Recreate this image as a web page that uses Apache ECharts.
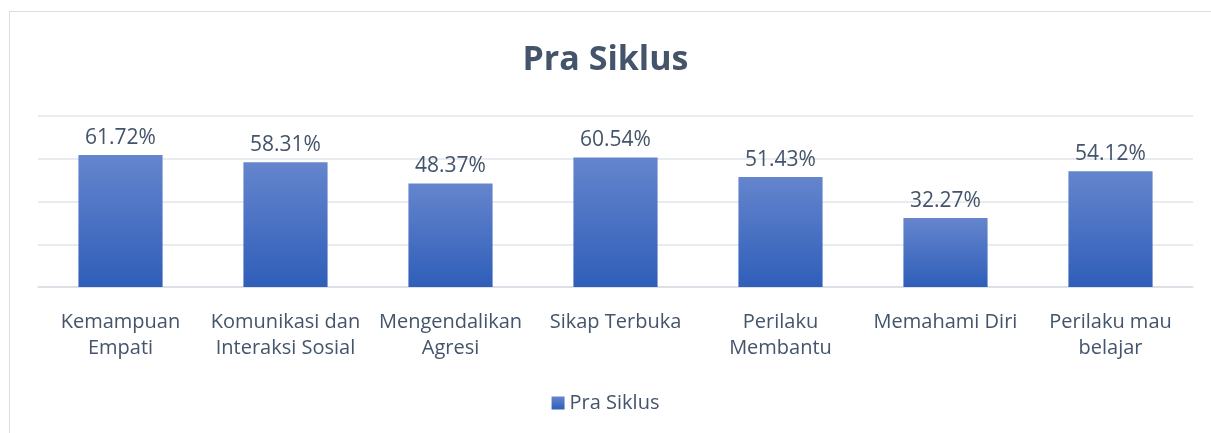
<!DOCTYPE html>
<html>
<head>
<meta charset="utf-8">
<script src="https://cdn.jsdelivr.net/npm/echarts@6/dist/echarts.min.js"></script>
<style>
  html, body { margin: 0; padding: 0; background: #fff; overflow: hidden; }
  #frame { position: absolute; left: 9px; top: 11px; width: 1300px; height: 500px; border: 1px solid #D9DEE5; }
  #main { position: absolute; left: 0; top: 0; width: 1211px; height: 433px; }
</style>
</head>
<body>
<div id="frame"></div>
<div id="main"></div>
<script>
// 类别与数值
var categories = ['Kemampuan\nEmpati', 'Komunikasi dan\nInteraksi Sosial', 'Mengendalikan\nAgresi', 'Sikap Terbuka', 'Perilaku\nMembantu', 'Memahami Diri', 'Perilaku mau\nbelajar'];
var praSiklus = [61.72, 58.31, 48.37, 60.54, 51.43, 32.27, 54.12];
var seriesName = 'Pra Siklus';

var textColor = '#44546A';
var fontName = '"Open Sans", "Noto Sans", sans-serif';

var option = {
    animation: false,
    title: {
        text: 'Pra Siklus',
        left: 'center',
        top: 38,
        textStyle: { fontFamily: fontName, fontSize: 34, fontWeight: 'bold', color: textColor }
    },
    legend: {
        data: [seriesName],
        top: 388,
        left: 'center',
        icon: 'rect',
        itemWidth: 13,
        itemHeight: 13,
        itemGap: 5,
        textStyle: { fontFamily: fontName, fontSize: 20, color: textColor }
    },
    grid: { left: 38, right: 18, top: 116, bottom: 146 },
    xAxis: {
        type: 'category',
        data: categories,
        axisLine: { lineStyle: { color: '#D9DEE5', width: 1.5 } },
        axisTick: { show: false },
        axisLabel: { fontFamily: fontName, fontSize: 20, color: textColor, lineHeight: 26, margin: 22, interval: 0 }
    },
    yAxis: {
        type: 'value',
        min: 0,
        max: 80,
        interval: 20,
        axisLabel: { show: false },
        axisLine: { show: false },
        axisTick: { show: false },
        splitLine: { lineStyle: { color: '#E1E5EA', width: 1.5 } }
    },
    series: [{
        name: seriesName,
        type: 'bar',
        data: praSiklus,
        barWidth: '51%',
        itemStyle: {
            color: new echarts.graphic.LinearGradient(0, 0, 0, 1, [
                { offset: 0, color: '#6585CD' },
                { offset: 1, color: '#2F5EB9' }
            ])
        },
        label: {
            show: true,
            position: 'top',
            distance: 7,
            fontFamily: fontName,
            fontSize: 21,
            color: textColor,
            formatter: function (p) { return p.value.toFixed(2) + '%'; }
        }
    }]
};

var chart = echarts.init(document.getElementById('main'));
chart.setOption(option);
</script>
</body>
</html>
